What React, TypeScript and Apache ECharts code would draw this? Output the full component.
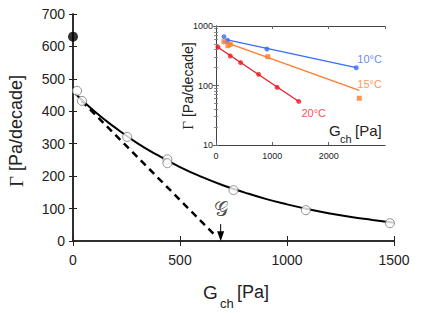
import React, { useEffect, useRef } from "react";
import * as echarts from "echarts";

// ---- Main plot data (20°C) ----
const openG = [19, 42, 253, 441, 441, 750, 1088, 1481];
const openGamma = [463, 432, 321, 252, 240, 157, 95, 55];
const filledG = [0];
const filledGamma = [630];
const curveG = [10, 100, 200, 300, 400, 500, 600, 700, 800, 900, 1000, 1100, 1200, 1300, 1400, 1500];
const curveGamma = [455, 400, 348, 302, 263, 228, 198, 172, 150, 130, 113, 98, 85, 74, 65, 56];
const tangentG = [40, 665];
const tangentGamma = [432, 17];
const arrowG = [690, 690];
const arrowGamma = [52, 15];
const gLabelPos = [690, 100];

// ---- Inset data ----
const blueG = [142, 207, 903, 2490];
const blueGamma = [661, 575, 410, 199];
const blueFitG = [160, 2490];
const blueFitGamma = [597, 199];
const orangeG = [142, 212, 253, 920, 2543];
const orangeGamma = [545, 467, 490, 305, 61];
const orangeFitG = [124, 2543];
const orangeFitGamma = [553, 83];
const redG = [35, 253, 437, 755, 1085, 1469];
const redGamma = [443, 313, 243, 154, 93, 54];
const redFitG = [0, 1469];
const redFitGamma = [461, 54];
const insetLabels = ["10°C", "15°C", "20°C"];
const insetLabelG = [2726, 2726, 1735];
const insetLabelGamma = [275, 105, 34];

const BLUE = "#3a6cf4";
const ORANGE = "#ff7a2a";
const RED = "#ee1c25";
const INSET_COLORS = [BLUE, ORANGE, RED];

const zip = (a: number[], b: number[]) => a.map((v, i) => [v, b[i]]);
const plain = (v: number) => String(Math.round(v));
const SANS = "'Liberation Sans', Arial, sans-serif";
const SERIF = "'Liberation Serif', 'DejaVu Serif', serif";

export default function App() {
  const ref = useRef<HTMLDivElement>(null);
  useEffect(() => {
    if (!ref.current) return;
    const chart = echarts.init(ref.current, undefined, { renderer: "svg" });
    const mainAxisLine = { show: true, lineStyle: { color: "#222", width: 1.5 } };
    const insetAxisLine = { show: true, lineStyle: { color: "#444", width: 1 } };
    const option: any = {
      animation: false,
      backgroundColor: "#fff",
      grid: [
        { left: 73, top: 14, width: 321, height: 227, containLabel: false },
        { left: 216, top: 26, width: 169, height: 119, containLabel: false, show: true, backgroundColor: "#fff", borderWidth: 0, z: 5 },
      ],
      xAxis: [
        {
          type: "value", gridIndex: 0, min: 0, max: 1500, interval: 500, position: "bottom",
          axisLine: mainAxisLine, splitLine: { show: false },
          axisTick: { show: true, inside: true, length: 5, lineStyle: { color: "#222" } },
          axisLabel: { fontSize: 14, color: "#222", margin: 12, fontFamily: SANS, formatter: plain },
        },
        {
          type: "value", gridIndex: 0, min: 0, max: 1500, interval: 500, position: "top",
          axisLine: mainAxisLine, splitLine: { show: false },
          axisTick: { show: true, inside: true, length: 5, lineStyle: { color: "#222" } },
          axisLabel: { show: false },
        },
        {
          type: "value", gridIndex: 1, min: 0, max: 3000, interval: 1000, position: "bottom", z: 6,
          axisLine: insetAxisLine, splitLine: { show: false },
          axisTick: { show: true, inside: true, length: 3, lineStyle: { color: "#666" } },
          axisLabel: { fontSize: 9, color: "#222", margin: 6, fontFamily: SANS, showMaxLabel: false, formatter: plain },
        },
        {
          type: "value", gridIndex: 1, min: 0, max: 3000, interval: 1000, position: "top", z: 6,
          axisLine: insetAxisLine, splitLine: { show: false },
          axisTick: { show: true, inside: true, length: 3, lineStyle: { color: "#666" } },
          axisLabel: { show: false },
        },
      ],
      yAxis: [
        {
          type: "value", gridIndex: 0, min: 0, max: 700, interval: 100, position: "left",
          axisLine: mainAxisLine, splitLine: { show: false },
          axisTick: { show: true, inside: true, length: 4, lineStyle: { color: "#222" } },
          axisLabel: { fontSize: 14, color: "#222", margin: 8, fontFamily: SANS, formatter: plain },
        },
        {
          type: "value", gridIndex: 0, min: 0, max: 700, interval: 100, position: "right",
          axisLine: mainAxisLine, splitLine: { show: false },
          axisTick: { show: true, inside: true, length: 4, lineStyle: { color: "#222" } },
          axisLabel: { show: false },
        },
        {
          type: "log", logBase: 10, gridIndex: 1, min: 10, max: 1000, position: "left", z: 6,
          axisLine: insetAxisLine, splitLine: { show: false },
          axisTick: { show: true, inside: true, length: 3, lineStyle: { color: "#666" } },
          minorTick: { show: true, splitNumber: 9, length: 2, lineStyle: { color: "#888" } },
          axisLabel: { fontSize: 9, color: "#222", margin: 3, fontFamily: SANS, formatter: plain },
        },
        {
          type: "log", logBase: 10, gridIndex: 1, min: 10, max: 1000, position: "right", z: 6,
          axisLine: insetAxisLine, splitLine: { show: false },
          axisTick: { show: true, inside: true, length: 3, lineStyle: { color: "#666" } },
          minorTick: { show: true, splitNumber: 9, length: 2, lineStyle: { color: "#888" } },
          axisLabel: { show: false },
        },
      ],
      series: [
        {
          type: "line", xAxisIndex: 0, yAxisIndex: 0, data: zip(curveG, curveGamma), smooth: true,
          symbol: "none", lineStyle: { color: "#000", width: 2 }, z: 2,
        },
        {
          type: "line", xAxisIndex: 0, yAxisIndex: 0, data: zip(tangentG, tangentGamma),
          symbol: "none", lineStyle: { color: "#000", width: 2.5, type: [7, 5] }, z: 2,
        },
        {
          type: "line", xAxisIndex: 0, yAxisIndex: 0, showSymbol: true,
          data: [
            { value: [arrowG[0], arrowGamma[0]], symbol: "none" },
            { value: [arrowG[1], arrowGamma[1]], symbol: "triangle", symbolRotate: 180, symbolSize: [7, 10] },
          ],
          lineStyle: { color: "#000", width: 1 }, itemStyle: { color: "#000" }, z: 2,
        },
        {
          type: "scatter", xAxisIndex: 0, yAxisIndex: 0, data: zip(openG, openGamma), symbolSize: 9,
          itemStyle: { color: "#fff", borderColor: "#777", borderWidth: 1 }, z: 3,
        },
        {
          type: "scatter", xAxisIndex: 0, yAxisIndex: 0, data: zip(filledG, filledGamma), symbolSize: 10,
          clip: false, itemStyle: { color: "#000" }, z: 3,
        },
        {
          type: "scatter", xAxisIndex: 0, yAxisIndex: 0, data: [gLabelPos], symbolSize: 1,
          itemStyle: { color: "transparent" },
          label: { show: true, position: "inside", formatter: "𝒢", fontSize: 20, color: "#222", fontFamily: SERIF },
          z: 3,
        },
        // Inset
        {
          type: "line", xAxisIndex: 2, yAxisIndex: 2, data: zip(blueFitG, blueFitGamma), symbol: "none",
          lineStyle: { color: BLUE, width: 1.3 }, z: 7,
        },
        {
          type: "line", xAxisIndex: 2, yAxisIndex: 2, data: zip(orangeFitG, orangeFitGamma), symbol: "none",
          lineStyle: { color: ORANGE, width: 1.3 }, z: 7,
        },
        {
          type: "line", xAxisIndex: 2, yAxisIndex: 2, data: zip(redFitG, redFitGamma), symbol: "none",
          lineStyle: { color: RED, width: 1.3 }, z: 7,
        },
        {
          type: "scatter", xAxisIndex: 2, yAxisIndex: 2, data: zip(blueG, blueGamma), symbol: "circle",
          symbolSize: 5, itemStyle: { color: BLUE }, z: 8,
        },
        {
          type: "scatter", xAxisIndex: 2, yAxisIndex: 2, data: zip(orangeG, orangeGamma), symbol: "rect",
          symbolSize: 5, itemStyle: { color: ORANGE }, z: 8,
        },
        {
          type: "scatter", xAxisIndex: 2, yAxisIndex: 2, data: zip(redG, redGamma), symbol: "circle",
          symbolSize: 5, itemStyle: { color: RED }, z: 8,
        },
        {
          type: "scatter", xAxisIndex: 2, yAxisIndex: 2, symbolSize: 1, z: 8,
          itemStyle: { color: "transparent" },
          data: insetLabels.map((t, i) => ({
            value: [insetLabelG[i], insetLabelGamma[i]],
            label: { show: true, position: "inside", formatter: t, color: INSET_COLORS[i], fontSize: 11, fontFamily: SANS },
          })),
        },
      ],
      graphic: [
        {
          type: "text", x: 16, y: 131, rotation: Math.PI / 2, z: 10,
          style: {
            text: "{g|Γ} [Pa/decade]", align: "center", verticalAlign: "middle",
            font: `18px ${SANS}`, fill: "#222",
            rich: { g: { fontFamily: SERIF, fontSize: 19, fill: "#222" } },
          },
        },
        { type: "text", x: 203, y: 292, z: 10, style: { text: "G", font: `19px ${SANS}`, fill: "#222", verticalAlign: "middle" } },
        { type: "text", x: 220, y: 303, z: 10, style: { text: "ch", font: `13px ${SANS}`, fill: "#222", verticalAlign: "middle" } },
        { type: "text", x: 237, y: 292, z: 10, style: { text: "[Pa]", font: `18px ${SANS}`, fill: "#222", verticalAlign: "middle" } },
        {
          type: "text", x: 188, y: 86, rotation: Math.PI / 2, z: 10,
          style: {
            text: "{g|Γ} [Pa/decade]", align: "center", verticalAlign: "middle",
            font: `14px ${SANS}`, fill: "#222",
            rich: { g: { fontFamily: SERIF, fontSize: 15, fill: "#222" } },
          },
        },
        { type: "text", x: 329, y: 130, z: 10, style: { text: "G", font: `15px ${SANS}`, fill: "#222", verticalAlign: "middle" } },
        { type: "text", x: 340, y: 139, z: 10, style: { text: "ch", font: `11px ${SANS}`, fill: "#222", verticalAlign: "middle" } },
        { type: "text", x: 355, y: 130, z: 10, style: { text: "[Pa]", font: `15px ${SANS}`, fill: "#222", verticalAlign: "middle" } },
      ],
    };
    chart.setOption(option);
    return () => chart.dispose();
  }, []);
  return <div ref={ref} style={{ width: 436, height: 313, position: "absolute", left: 0, top: 0 }} />;
}
